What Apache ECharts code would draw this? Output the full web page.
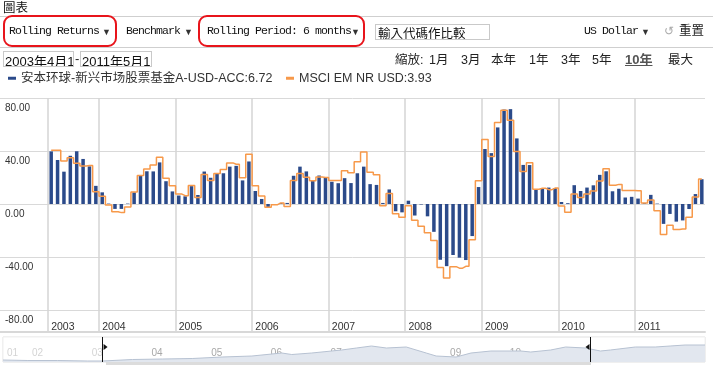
<!DOCTYPE html>
<html><head><meta charset="utf-8">
<script src="https://cdn.jsdelivr.net/npm/echarts@6/dist/echarts.min.js"></script>
<style>
html,body{margin:0;padding:0;background:#fff;}
#wrap{position:relative;width:713px;height:367px;overflow:hidden;font-family:'Liberation Sans','Noto Sans CJK TC',sans-serif;color:#222;}
#chart{position:absolute;left:0;top:0;width:713px;height:367px;}
.abs{position:absolute;white-space:nowrap;line-height:14px;}
.mono{font-family:'Liberation Mono',monospace;font-size:11.5px;letter-spacing:-0.9px;color:#111;top:24px;}
.tri{font-size:9px;color:#333;top:25px;}
.cjk{font-family:'Noto Sans CJK TC',sans-serif;}
.hline{position:absolute;left:0;width:713px;height:1px;background:#cfcfcf;}
.red{position:absolute;border:2px solid #e8141b;border-radius:9px;box-sizing:border-box;}
.box{position:absolute;border:1px solid #c9c9c9;box-sizing:border-box;overflow:hidden;white-space:nowrap;}
.zm{position:absolute;top:53px;font-size:12.5px;color:#222;font-family:'Liberation Sans','Noto Sans CJK TC',sans-serif;line-height:14px;}
</style></head>
<body>
<div id="wrap">
  <div id="chart"></div>
  <div class="abs cjk" style="left:3px;top:0px;font-size:12.5px;color:#111;">圖表</div>
  <div class="hline" style="top:16px;"></div>
  <div class="hline" style="top:47px;"></div>
  <div class="abs mono" style="left:9px;">Rolling Returns</div>
  <div class="abs tri" style="left:102px;">▼</div>
  <div class="abs mono" style="left:126px;">Benchmark</div>
  <div class="abs tri" style="left:184px;">▼</div>
  <div class="abs mono" style="left:207px;">Rolling Period: 6 months</div>
  <div class="abs tri" style="left:351px;">▼</div>
  <div class="red" style="left:3px;top:15px;width:114px;height:32px;"></div>
  <div class="red" style="left:198px;top:15px;width:167px;height:32px;"></div>
  <div class="box" style="left:375px;top:24px;width:115px;height:16px;"><span class="cjk" style="position:absolute;left:2px;top:-2px;font-size:12.5px;color:#111;">輸入代碼作比較</span></div>
  <div class="abs mono" style="left:584px;">US Dollar</div>
  <div class="abs tri" style="left:641px;">▼</div>
  <div class="abs" style="left:664px;top:24px;font-size:12px;color:#aaa;">↺</div>
  <div class="abs cjk" style="left:679px;top:23px;font-size:12.5px;color:#222;">重置</div>
  <div class="box" style="left:3px;top:51px;width:71px;height:16px;"><span style="position:absolute;left:1px;top:-1px;font-size:13px;color:#111;">2003年4月1日</span></div>
  <div class="abs" style="left:75px;top:52px;font-size:13px;">-</div>
  <div class="box" style="left:80px;top:51px;width:72px;height:16px;"><span style="position:absolute;left:1px;top:-1px;font-size:13px;color:#111;">2011年5月1日</span></div>
  <div class="zm" style="left:395px;">縮放:</div>
  <div class="zm" style="left:429px;">1月</div>
  <div class="zm" style="left:461px;">3月</div>
  <div class="zm" style="left:491px;">本年</div>
  <div class="zm" style="left:529px;">1年</div>
  <div class="zm" style="left:561px;">3年</div>
  <div class="zm" style="left:592px;">5年</div>
  <div class="zm" style="left:625px;font-weight:bold;text-decoration:underline;color:#555;font-size:13px;">10年</div>
  <div class="zm" style="left:668px;">最大</div>
  <div style="position:absolute;left:106px;top:362px;width:485px;height:3px;background:#dcdcdc;"></div>
</div>
<script>
// ---- data ----
const startYear = 2003, startMonth = 5, monthCount = 103;
const fundName = '安本环球-新兴市场股票基金A-USD-ACC:6.72';
const benchName = 'MSCI EM NR USD:3.93';
const fundValues = [
  39.7, 33.2, 24.4, 36.4, 39.8, 34.0, 28.4, 13.7, 8.8, 0.3,
  -3.7, -3.7, 0.3, 8.8, 21.2, 24.7, 24.6, 31.4, 17.2, 9.5,
  6.4, 5.8, 13.5, 6.8, 24.5, 19.8, 23.2, 23.2, 28.2, 28.8,
  17.8, 32.1, 9.8, 3.8, -2.2, -0.6, 0.8, 0.8, 21.3, 28.2,
  24.6, 17.9, 21.5, 20.0, 16.8, 15.7, 19.5, 15.8, 23.2, 28.2,
  15.0, 14.4, 0.8, 11.0, -5.5, -6.3, 2.5, -8.7, -0.4, -9.3,
  -21.0, -42.1, -46.9, -38.5, -40.5, -42.3, -24.2, 12.8, 41.5, 38.4,
  57.8, 71.3, 71.6, 49.5, 29.5, 29.4, 11.2, 11.9, 12.4, 11.9,
  1.5, 0.6, 14.2, 9.8, 12.4, 14.1, 22.0, 24.7, 9.6, 11.5,
  4.9, 5.4, 4.1, 0.6, 6.9, 0.3, -15.0, -7.5, -13.3, -12.4,
  -3.8, 7.5, 18.7
];
const benchValues = [
  40.5, 40.5, 32.5, 35.0, 30.8, 28.7, 29.0, 9.2, 5.8, -0.8,
  -5.8, -6.5, -2.3, 9.0, 21.5, 26.5, 29.4, 35.3, 19.5, 13.8,
  7.5, 6.3, 14.0, 5.0, 22.3, 17.8, 23.0, 26.0, 31.0, 30.0,
  19.8, 37.5, 13.8, 6.0, -2.5, -0.5, 0.8, -1.8, 17.8, 23.0,
  20.2, 17.5, 20.4, 20.0, 17.7, 17.7, 25.1, 23.5, 31.8, 39.3,
  24.0, 22.0, -1.3, 7.9, -7.4, -10.0, -1.4, -12.3, -16.7, -21.7,
  -27.6, -48.0, -55.8, -47.3, -48.4, -47.0, -26.9, 17.6, 48.7, 35.9,
  61.6, 70.8, 63.3, 39.7, 24.5, 31.2, 11.2, 11.9, 10.8, 12.0,
  -1.5, -6.2, 7.5, 5.0, 7.6, 9.9, 17.3, 26.6, 14.2, 14.8,
  10.1, 10.1, 10.0, 0.8, 3.0, -5.0, -23.0, -16.0, -19.3, -18.8,
  -10.0, 5.3, 18.8
];
const yMin = -80, yMax = 80, yStep = 40;
// navigator
const navStart = [2001, 8], navEnd = [2013, 5];
const navDates = ['2001-08','2002-01','2002-07','2003-01','2003-04','2003-10','2004-04','2004-10','2005-04','2005-10','2006-04','2006-06','2006-10','2007-04','2007-07','2007-10','2008-01','2008-05','2008-09','2008-11','2009-03','2009-06','2009-10','2010-04','2010-06','2010-10','2011-01','2011-05','2011-08','2011-10','2012-03','2012-07','2012-10','2013-01','2013-05'];
const navValues = [2, 1.5, 1.5, 1, 1, 2.5, 3, 3.5, 5, 6, 9, 7.5, 9, 12, 14, 16, 14, 15, 9, 6, 5, 9, 11, 11, 10, 12, 15, 14, 11, 12, 15, 15, 16, 17, 17];
const navRange = ['2003-04', '2011-06'];

// ---- build ----
function ym(y, m) { return y + '-' + (m < 10 ? '0' + m : '' + m); }
const months = [];
for (let k = 0; k < monthCount; k++) {
  const t = startYear * 12 + (startMonth - 1) + k;
  months.push(ym(Math.floor(t / 12), t % 12 + 1));
}
const monthsPadded = months.concat(['pad-a', 'pad-b']);
const navMonths = [];
for (let t = navStart[0] * 12 + navStart[1] - 1; t <= navEnd[0] * 12 + navEnd[1] - 1; t++) {
  navMonths.push(ym(Math.floor(t / 12), t % 12 + 1));
}
const isYearStart = (i, v) => i === 0 || (typeof v === 'string' && /^\d{4}-01$/.test(v));

const plotLeft = 48, plotRight = 705;
const bw = (plotRight - plotLeft) / monthCount;
const font = "'Liberation Sans','Noto Sans CJK SC',sans-serif";
const gb = { outerBoundsMode: 'none', containLabel: false };

const chart = echarts.init(document.getElementById('chart'));
chart.setOption({
  animation: false,
  legend: [
    { left: 3, top: 67, data: [fundName], icon: 'rect', itemWidth: 8, itemHeight: 3, textStyle: { fontSize: 12.5, color: '#333', fontFamily: font } },
    { left: 281, top: 67, data: [benchName], icon: 'rect', itemWidth: 8, itemHeight: 3, textStyle: { fontSize: 12.5, color: '#333', fontFamily: font } }
  ],
  grid: [
    Object.assign({ left: 0, right: 713 - plotRight, top: 98, height: 212 }, gb),
    Object.assign({ left: plotLeft, right: 713 - plotRight, top: 98, height: 212 }, gb),
    Object.assign({ left: plotLeft, right: 713 - plotRight - 2 * bw, top: 98, height: 234 }, gb),
    Object.assign({ left: 0, right: 713 - plotRight, top: 98, height: 234 }, gb),
    Object.assign({ left: 3, right: 713 - plotRight, top: 337, height: 25, show: true, borderColor: '#e0e0e0', borderWidth: 1 }, gb)
  ],
  xAxis: [
    { gridIndex: 0, type: 'value', show: false, min: 0, max: 1 },
    { gridIndex: 1, type: 'category', data: months, show: false },
    { gridIndex: 2, type: 'category', data: monthsPadded, position: 'bottom',
      axisLine: { show: false }, axisTick: { show: false },
      splitLine: { show: true, interval: isYearStart, lineStyle: { color: '#d5d5d5', width: 1.5 } },
      axisLabel: { show: true, inside: true, interval: isYearStart, formatter: v => v.slice(0, 4), align: 'left', margin: 0, fontSize: 10.5, color: '#333', fontFamily: font } },
    { gridIndex: 3, type: 'value', min: 0, max: 1, axisLine: { show: true, lineStyle: { color: '#d8d8d8', width: 2 } }, axisTick: { show: false }, axisLabel: { show: false }, splitLine: { show: false } },
    { gridIndex: 4, type: 'category', data: navMonths, boundaryGap: false,
      axisLine: { show: false }, axisTick: { show: false }, splitLine: { show: false },
      axisLabel: { inside: true, interval: isYearStart, formatter: v => v.slice(2, 4), align: 'left', padding: [0, 0, 0, 4], margin: 4, fontSize: 10, color: '#a8a8a8', fontFamily: font } }
  ],
  yAxis: [
    { gridIndex: 0, type: 'value', min: yMin, max: yMax, interval: yStep,
      axisLine: { show: false }, axisTick: { show: false },
      splitLine: { lineStyle: { color: '#d9d9d9', width: 1 } },
      axisLabel: { inside: true, margin: 5, verticalAlign: 'top', padding: [5, 0, 0, 0], fontSize: 10, color: '#333', fontFamily: font, formatter: v => v.toFixed(2) } },
    { gridIndex: 1, type: 'value', min: yMin, max: yMax, show: false },
    { gridIndex: 2, type: 'value', min: 0, max: 1, show: false },
    { gridIndex: 3, type: 'value', min: 0, max: 1, show: false },
    { gridIndex: 4, type: 'value', min: 0, max: 25, show: false }
  ],
  series: [
    { name: fundName, type: 'bar', xAxisIndex: 1, yAxisIndex: 1, data: fundValues, barWidth: 3.5,
      itemStyle: { color: '#2b4a8a' } },
    { name: benchName, type: 'line', xAxisIndex: 1, yAxisIndex: 1, data: benchValues, step: 'middle',
      symbol: 'none', lineStyle: { color: '#f7994a', width: 1.5 }, itemStyle: { color: '#f7994a' } },
    { name: 'nav', type: 'line', xAxisIndex: 4, yAxisIndex: 4, symbol: 'none',
      data: navDates.map((d, i) => [d, navValues[i]]),
      lineStyle: { color: '#b7c2d2', width: 1 }, areaStyle: { color: '#e2e7ef', opacity: 1 },
      markArea: { silent: true, itemStyle: { color: 'rgba(255,255,255,0.5)' },
        data: [[{ xAxis: navMonths[0] }, { xAxis: navRange[0] }], [{ xAxis: navRange[1] }, { xAxis: navMonths[navMonths.length - 1] }]] },
      markLine: { silent: true, symbol: 'none', label: { show: false }, lineStyle: { color: '#111', width: 1, type: 'solid' },
        data: [{ xAxis: navRange[0] }, { xAxis: navRange[1] }] },
      markPoint: { silent: true, label: { show: false }, itemStyle: { color: '#111' },
        data: [
          { coord: [navRange[0], 15], symbol: 'triangle', symbolSize: [6, 4], symbolRotate: -90, symbolOffset: [3, 0] },
          { coord: [navRange[1], 15], symbol: 'triangle', symbolSize: [6, 4], symbolRotate: 90, symbolOffset: [-3, 0] }
        ] } }
  ]
});
</script>
</body></html>
